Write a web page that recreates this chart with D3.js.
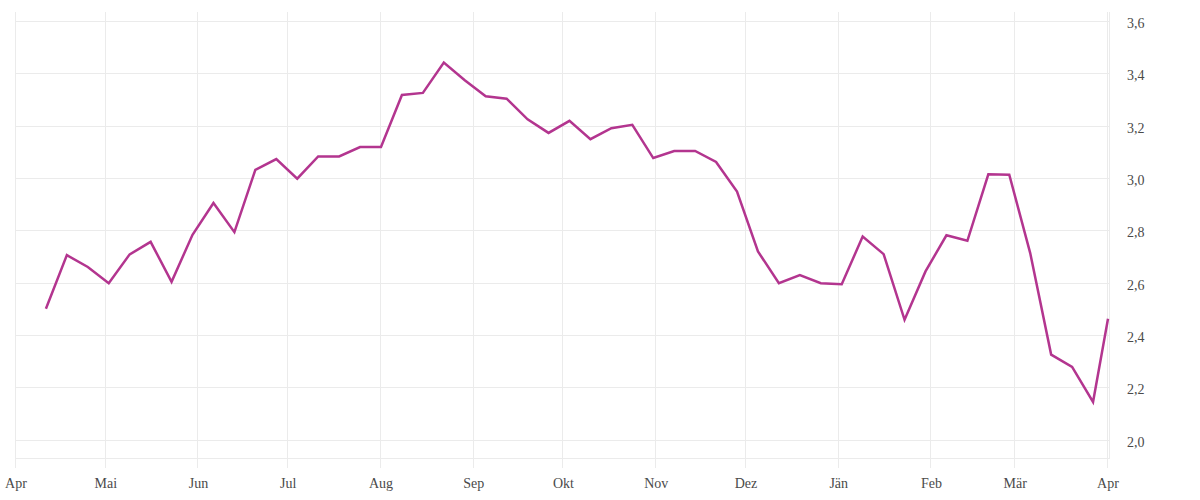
<!DOCTYPE html>
<html>
<head>
<meta charset="utf-8">
<script src="https://cdn.jsdelivr.net/npm/d3@7"></script>
<style>
  html, body { margin: 0; padding: 0; background: #fff; }
  svg { display: block; }
  text { font-family: "Liberation Serif", "DejaVu Serif", serif; font-size: 14px; fill: #4a4a4a; }
</style>
</head>
<body>
<svg id="chart" width="1200" height="500"></svg>
<script>
const dates = [
  "2022-04-11","2022-04-18","2022-04-25","2022-05-02","2022-05-09","2022-05-16","2022-05-23","2022-05-30",
  "2022-06-06","2022-06-13","2022-06-20","2022-06-27","2022-07-04","2022-07-11","2022-07-18","2022-07-25",
  "2022-08-01","2022-08-08","2022-08-15","2022-08-22","2022-08-29","2022-09-05","2022-09-12","2022-09-19",
  "2022-09-26","2022-10-03","2022-10-10","2022-10-17","2022-10-24","2022-10-31","2022-11-07","2022-11-14",
  "2022-11-21","2022-11-28","2022-12-05","2022-12-12","2022-12-19","2022-12-26","2023-01-02","2023-01-09",
  "2023-01-16","2023-01-23","2023-01-30","2023-02-06","2023-02-13","2023-02-20","2023-02-27","2023-03-06",
  "2023-03-13","2023-03-20","2023-03-27","2023-04-01"
];
const values = [
  2.50, 2.705, 2.66, 2.598, 2.708, 2.756, 2.603, 2.783,
  2.904, 2.793, 3.031, 3.072, 2.997, 3.082, 3.082, 3.118,
  3.118, 3.317, 3.325, 3.441, 3.373, 3.312, 3.303, 3.224,
  3.172, 3.218, 3.148, 3.19, 3.203, 3.076, 3.103, 3.103,
  3.061, 2.948, 2.719, 2.598, 2.629, 2.598, 2.594, 2.776,
  2.709, 2.458, 2.643, 2.781, 2.76, 3.014, 3.012, 2.713,
  2.325, 2.278, 2.144, 2.462
];
const monthLabels = ["Apr","Mai","Jun","Jul","Aug","Sep","Okt","Nov","Dez","Jän","Feb","Mär","Apr"];
const yTicks = [2.0, 2.2, 2.4, 2.6, 2.8, 3.0, 3.2, 3.4, 3.6];

(function () {
const svg = d3.select("#chart");
const parse = d3.timeParse("%Y-%m-%d");
const data = dates.map((d, i) => ({ date: parse(d), value: values[i] }));

const pLeft = 15.5, pRight = 1110, pTop = 12, pBottom = 458;
const x = d3.scaleTime()
  .domain([parse("2022-04-01"), parse("2023-04-01")])
  .range([16, 1108]);
const y = d3.scaleLinear().domain([1.93, 3.634]).range([pBottom, pTop]);

const grid = "#ebebeb";

// horizontal gridlines
svg.append("g").selectAll("line").data(yTicks).join("line")
  .attr("x1", pLeft).attr("x2", pRight)
  .attr("y1", d => Math.round(y(d)) + 0.5).attr("y2", d => Math.round(y(d)) + 0.5)
  .attr("stroke", grid).attr("stroke-width", 1);

// bottom axis line
svg.append("line")
  .attr("x1", pLeft).attr("x2", pRight)
  .attr("y1", pBottom + 0.5).attr("y2", pBottom + 0.5)
  .attr("stroke", grid);

// right edge line
svg.append("line")
  .attr("x1", pRight - 0.5).attr("x2", pRight - 0.5)
  .attr("y1", pTop).attr("y2", pBottom)
  .attr("stroke", grid);

// vertical gridlines + ticks
const months = d3.timeMonth.range(parse("2022-04-01"), parse("2023-04-02"));
svg.append("g").selectAll("line").data(months).join("line")
  .attr("x1", d => Math.round(x(d)) - 0.5).attr("x2", d => Math.round(x(d)) - 0.5)
  .attr("y1", pTop).attr("y2", pBottom + 10)
  .attr("stroke", grid).attr("stroke-width", 1);

// x labels
svg.append("g").selectAll("text").data(months).join("text")
  .attr("x", d => x(d))
  .attr("y", 488)
  .attr("text-anchor", "middle")
  .text((d, i) => monthLabels[i]);

// y labels
const fmt = d => d3.format(".1f")(d).replace(".", ",");
svg.append("g").selectAll("text").data(yTicks).join("text")
  .attr("x", 1127)
  .attr("y", d => y(d) + 7)
  .attr("text-anchor", "start")
  .text(fmt);

// line
const line = d3.line().x(d => x(d.date)).y(d => y(d.value));
svg.append("path")
  .datum(data)
  .attr("d", line)
  .attr("fill", "none")
  .attr("stroke", "#b3358f")
  .attr("stroke-width", 2.5)
  .attr("stroke-linejoin", "miter");
})();
</script>
</body>
</html>
